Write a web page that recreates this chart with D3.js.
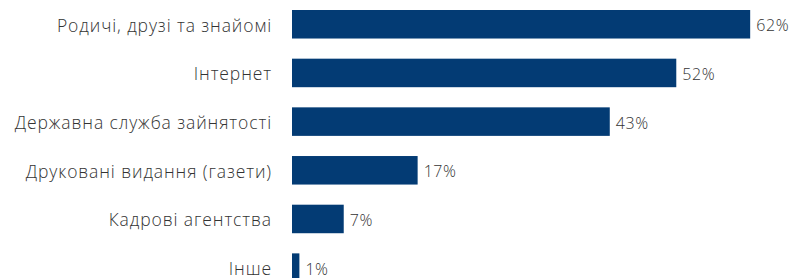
<!DOCTYPE html>
<html>
<head>
<meta charset="utf-8">
<script src="https://cdn.jsdelivr.net/npm/d3@7"></script>
<style>
  body { margin: 0; background: #fff; }
  svg text { font-family: "Open Sans", sans-serif; fill: #333; font-weight: 300; }
</style>
</head>
<body>
<div id="chart"></div>
<script>
// categories and values (%)
var categories = [
    "Родичі, друзі та знайомі",
    "Інтернет",
    "Державна служба зайнятості",
    "Друковані видання (газети)",
    "Кадрові агентства",
    "Інше"
];
var values = [62, 52, 43, 17, 7, 1];

var width = 792,
    height = 278;

//  bar area
var left = 292,
    pxPerPct = 7.39;

var rows = categories.map(function (c, i) { return { name: c, value: values[i] }; });

var x = d3.scaleLinear()
    .domain([0, 100])
    .range([left, left + pxPerPct * 100]);

// step ~48.7px, bar ~28.5px
var y = d3.scaleBand()
    .domain(categories)
    .range([10, 281.9])
    .paddingInner(0.414)
    .paddingOuter(0);

var svg = d3.select("#chart")
    .append("svg")
    .attr("width", width)
    .attr("height", height);

svg.selectAll("rect.bar").data(rows)
    .enter().append("rect")
    .attr("class", "bar")
    .attr("x", x(0))
    .attr("y", function (d) { return y(d.name); })
    .attr("width", function (d) { return x(d.value) - x(0); })
    .attr("height", y.bandwidth())
    .style("fill", "#033b74");

// category labels
svg.selectAll("text.cat").data(rows)
    .enter().append("text")
    .attr("class", "cat")
    .attr("x", left - 20)
    .attr("y", function (d) { return y(d.name) + y.bandwidth() / 2 + 7.3; })
    .attr("text-anchor", "end")
    .style("font-size", "17.5px")
    .style("letter-spacing", "0.9px")
    .text(function (d) { return d.name; });

// value labels
svg.selectAll("text.val").data(rows)
    .enter().append("text")
    .attr("class", "val")
    .attr("x", function (d) { return x(d.value) + 6; })
    .attr("y", function (d) { return y(d.name) + y.bandwidth() / 2 + 7.1; })
    .style("font-size", "16px")
    .style("letter-spacing", "0.6px")
    .text(function (d) { return d.value + "%"; });
</script>
</body>
</html>
